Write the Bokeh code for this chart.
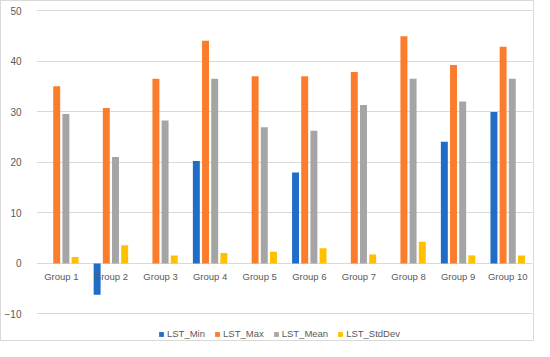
from bokeh.plotting import figure
from bokeh.models import ColumnDataSource, Legend, LegendItem, FixedTicker, Range1d
from bokeh.core.properties import value
from bokeh.transform import dodge
from bokeh.embed import file_html
from bokeh.resources import INLINE

groups = ["Group 1", "Group 2", "Group 3", "Group 4", "Group 5",
          "Group 6", "Group 7", "Group 8", "Group 9", "Group 10"]
lst_min = [0, -6.2, 0, 20.3, 0, 18.0, 0, 0, 24.1, 30.0]
lst_max = [35.1, 30.8, 36.6, 44.1, 37.1, 37.1, 37.9, 45.0, 39.3, 42.9]
lst_mean = [29.6, 21.1, 28.3, 36.6, 27.0, 26.3, 31.4, 36.6, 32.1, 36.6]
lst_std = [1.3, 3.6, 1.6, 2.1, 2.3, 3.0, 1.8, 4.3, 1.6, 1.6]
series_names = ["LST_Min", "LST_Max", "LST_Mean", "LST_StdDev"]
colors = ["#1F6DC6", "#FB7C2A", "#A5A5A5", "#FFC000"]
y_ticks = [-10, 0, 10, 20, 30, 40, 50]

FONT = "Liberation Sans"
TXT = "#595959"
FS = "9.5px"

src = ColumnDataSource(dict(group=groups, mn=lst_min, mx=lst_max,
                            mean=lst_mean, sd=lst_std, zero=[0] * len(groups)))

p = figure(x_range=groups, y_range=Range1d(-15.45, 50.89), width=534, height=341,
           output_backend="svg", toolbar_location=None,
           min_border_left=30, min_border_right=3, min_border_top=5,
           min_border_bottom=1)
p.styles = {"border": "1px solid #D9D9D9"}
p.outline_line_color = None
p.background_fill_color = "white"
p.border_fill_color = "white"

p.xaxis.visible = False
p.xgrid.grid_line_color = None
p.ygrid.grid_line_color = "#D9D9D9"
p.ygrid.grid_line_width = 1

ya = p.yaxis[0]
ya.ticker = FixedTicker(ticks=y_ticks)
ya.axis_line_color = None
ya.major_tick_line_color = None
ya.minor_tick_line_color = None
ya.major_label_standoff = 9
ya.major_label_text_font = FONT
ya.major_label_text_font_size = "10px"
ya.major_label_text_color = TXT

pitch = 0.185
bw = 0.14
fields = ["mn", "mx", "mean", "sd"]
renderers = []
for i, (f, c) in enumerate(zip(fields, colors)):
    off = (i - 1.5) * pitch
    r = p.vbar(x=dodge("group", off, range=p.x_range), top=f, bottom=0,
               width=bw, source=src, fill_color=c, line_color=None)
    renderers.append(r)

p.text(x="group", y="zero", text="group", source=src, y_offset=13,
       text_align="center", text_baseline="middle",
       text_font=value(FONT), text_font_size=FS, text_color=TXT)

legend = Legend(items=[LegendItem(label=n, renderers=[r])
                       for n, r in zip(series_names, renderers)],
                orientation="horizontal", location=(122, 2))
legend.glyph_width = 6
legend.glyph_height = 6
legend.label_standoff = 3
legend.spacing = 9
legend.padding = 0
legend.margin = 0
legend.label_height = 10
legend.border_line_color = None
legend.background_fill_alpha = 0
legend.label_text_font = FONT
legend.label_text_font_size = FS
legend.label_text_color = TXT
p.add_layout(legend, "center")

open("out.html", "w").write(file_html(p, INLINE))
